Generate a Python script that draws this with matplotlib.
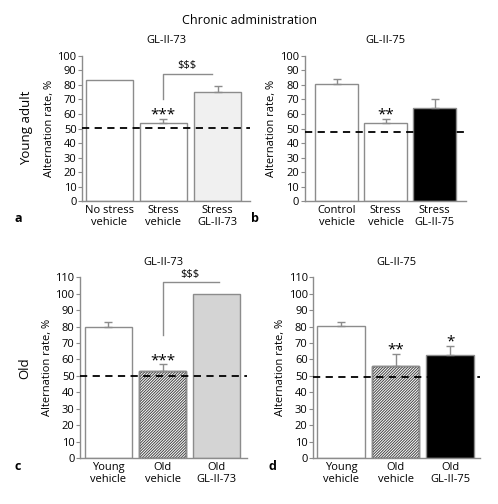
import numpy as np
import matplotlib.pyplot as plt

plt.rcParams['font.family'] = ['Open Sans', 'DejaVu Sans']
plt.rcParams['hatch.linewidth'] = 0.7

# ---- data ----
labels_a = ['No stress\nvehicle', 'Stress\nvehicle', 'Stress\nGL-II-73']
means_a = [83.5, 53.5, 75.0]
errs_a = [0.0, 3.0, 4.0]

labels_b = ['Control\nvehicle', 'Stress\nvehicle', 'Stress\nGL-II-75']
means_b = [80.5, 53.5, 64.0]
errs_b = [3.5, 3.0, 6.5]

labels_c = ['Young\nvehicle', 'Old\nvehicle', 'Old\nGL-II-73']
means_c = [80.0, 53.0, 100.0]
errs_c = [3.0, 4.5, 0.0]

labels_d = ['Young\nvehicle', 'Old\nvehicle', 'Old\nGL-II-75']
means_d = [80.5, 56.0, 63.0]
errs_d = [2.5, 7.5, 5.0]

chance = {'a': 50.5, 'b': 47.5, 'c': 50.0, 'd': 49.5}

GRAY = '#8c8c8c'
HATCH = '/' * 12

fig = plt.figure(figsize=(4.98, 5.04), dpi=100)


def panel(rect, labels, means, errs, faces, hatches, ylim, xlim, line_y, title):
    ax = fig.add_axes(rect)
    x = np.arange(len(means))
    for xi, m, e, fc, h in zip(x, means, errs, faces, hatches):
        ec = '#444444' if h else GRAY
        ax.bar(xi, m, width=0.87, color=fc, edgecolor=ec, linewidth=1.0,
               hatch=h, zorder=2)
        if h:
            ax.bar(xi, m, width=0.87, color='none', edgecolor=GRAY,
                   linewidth=1.0, zorder=2)
        if e > 0:
            ax.errorbar(xi, m, yerr=[[0], [e]], fmt='none', ecolor=GRAY,
                        elinewidth=1.0, capsize=3, capthick=1.0, zorder=3)
    ax.axhline(line_y, color='black', ls=(0, (4, 3)), lw=1.3, zorder=4,
               clip_on=False)
    ax.set_xlim(*xlim)
    ax.set_ylim(0, ylim)
    ax.set_yticks(np.arange(0, ylim + 1, 10))
    ax.set_xticks(x)
    ax.set_xticklabels(labels, fontsize=8, linespacing=1.1)
    ax.tick_params(axis='x', length=0, pad=3)
    ax.tick_params(axis='y', length=3, width=0.8, color=GRAY, labelsize=8, pad=1)
    for s in ['top', 'right']:
        ax.spines[s].set_visible(False)
    for s in ['left', 'bottom']:
        ax.spines[s].set_color(GRAY)
        ax.spines[s].set_linewidth(1.0)
    ax.set_ylabel('Alternation rate, %', fontsize=8, labelpad=2)
    ax.set_title(title, fontsize=8, pad=9)
    return ax


ax_a = panel([0.165, 0.601, 0.337, 0.288], labels_a, means_a, errs_a,
             ['white', 'white', '#f0f0f0'], [None, None, None],
             100, (-0.5, 2.6), chance['a'], 'GL-II-73')
ax_b = panel([0.612, 0.601, 0.323, 0.288], labels_b, means_b, errs_b,
             ['white', 'white', 'black'], [None, None, None],
             100, (-0.65, 2.63), chance['b'], 'GL-II-75')
ax_c = panel([0.161, 0.091, 0.335, 0.359], labels_c, means_c, errs_c,
             ['white', 'white', '#d4d4d4'], [None, HATCH, None],
             110, (-0.52, 2.56), chance['c'], 'GL-II-73')
ax_d = panel([0.629, 0.091, 0.335, 0.359], labels_d, means_d, errs_d,
             ['white', 'white', 'black'], [None, HATCH, None],
             110, (-0.51, 2.55), chance['d'], 'GL-II-75')

# significance marks
ax_a.text(1, 59.5, '***', ha='center', va='center', fontsize=11)
ax_b.text(1, 59.5, '**', ha='center', va='center', fontsize=11)
ax_c.text(1, 59, '***', ha='center', va='center', fontsize=11)
ax_d.text(1, 66, '**', ha='center', va='center', fontsize=11)
ax_d.text(2, 70.5, '*', ha='center', va='center', fontsize=11)

# brackets
ax_a.plot([1, 1, 1.89], [70, 87.6, 87.6], color=GRAY, lw=1.0, clip_on=False)
ax_a.text(1.43, 89.5, '$$$', ha='center', va='bottom', fontsize=8)
ax_c.plot([1, 1, 2.05], [74.8, 107, 107], color=GRAY, lw=1.0, clip_on=False)
ax_c.text(1.5, 108.5, '$$$', ha='center', va='bottom', fontsize=8)

# row labels and panel letters
fig.text(27 / 498, 1 - 128 / 504, 'Young adult', rotation=90, ha='center',
         va='center', fontsize=9.5)
fig.text(25 / 498, 1 - 368 / 504, 'Old', rotation=90, ha='center',
         va='center', fontsize=9.5)
fig.text(0.5, 1 - 21 / 504, 'Chronic administration', ha='center',
         va='center', fontsize=9)
for lt, (px, py) in zip('abcd', [(18, 219), (255, 219), (18, 467), (272, 467)]):
    fig.text(px / 498, 1 - py / 504, lt, ha='center', va='center',
             fontsize=9, fontweight='bold')

fig.savefig('out.png', dpi=100, facecolor='white')
